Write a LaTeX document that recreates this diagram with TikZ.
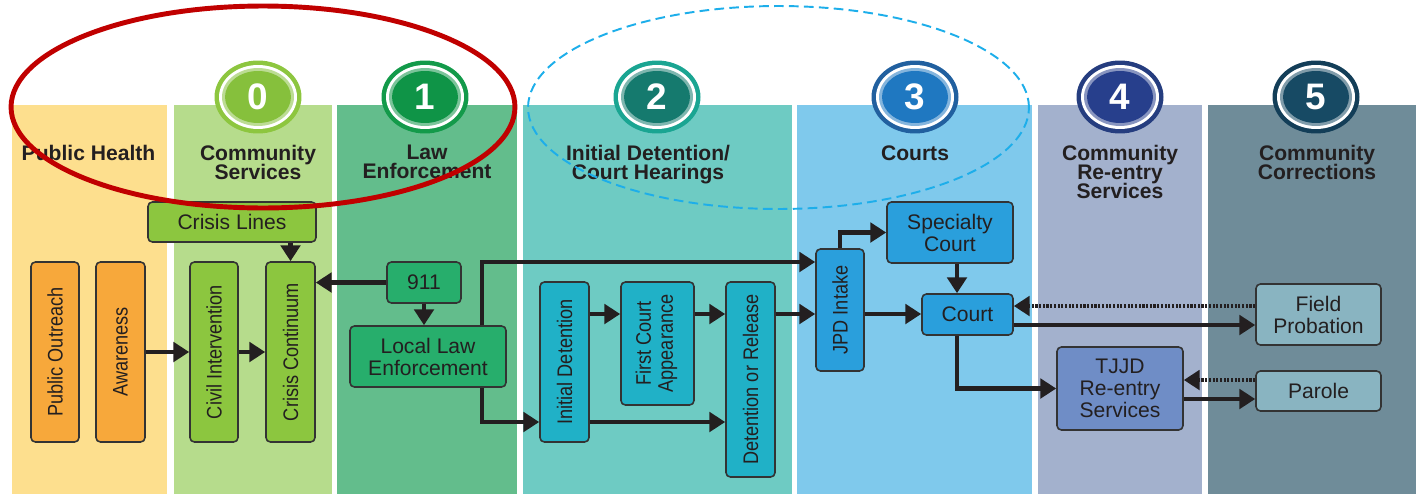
\documentclass[tikz,border=0pt]{standalone}
\usepackage{fontspec}
\setmainfont{Liberation Sans}
\usetikzlibrary{arrows.meta}

\definecolor{ink}{HTML}{231F20}
\definecolor{boxline}{HTML}{333333}
\definecolor{phband}{HTML}{FDDF8E}
\definecolor{csband}{HTML}{B6DC8C}
\definecolor{leband}{HTML}{63BD8C}
\definecolor{idband}{HTML}{6ECBC3}
\definecolor{ctband}{HTML}{7FC9EC}
\definecolor{reband}{HTML}{A3B1CD}
\definecolor{coband}{HTML}{6F8C99}
\definecolor{orng}{HTML}{F7A83B}
\definecolor{lime}{HTML}{8CC63F}
\definecolor{lawgreen}{HTML}{27AE6C}
\definecolor{cyanbox}{HTML}{20B1C7}
\definecolor{bluebox}{HTML}{2A9FDC}
\definecolor{tjjdbox}{HTML}{6F8DC6}
\definecolor{corrbox}{HTML}{89B4C1}
\definecolor{ringA}{HTML}{8DC63F}
\definecolor{ringB}{HTML}{139A4A}
\definecolor{ringC}{HTML}{1AA592}
\definecolor{ringD}{HTML}{21609F}
\definecolor{ringE}{HTML}{253D7F}
\definecolor{ringF}{HTML}{133E58}
\definecolor{coreA}{HTML}{86C03C}
\definecolor{coreB}{HTML}{0F9447}
\definecolor{coreC}{HTML}{157A6E}
\definecolor{coreD}{HTML}{1F78C1}
\definecolor{coreE}{HTML}{273F8C}
\definecolor{coreF}{HTML}{174A64}
\definecolor{markred}{HTML}{C00000}
\definecolor{markblue}{HTML}{1DAEEA}

\def\px{0.02cm}
\newcommand\vtext[1]{\rotatebox{90}{\scalebox{0.86}[1]{#1}}}
\newcommand\vtwo[2]{\rotatebox{90}{\scalebox{0.86}[1]{\begin{tabular}{@{}c@{}}#1\\#2\end{tabular}}}}

\tikzset{
  box/.style={draw=boxline, line width=0.9pt, rounded corners=2.5pt, inner sep=0pt,
    text=ink, align=center, font=\fontsize{12}{12.5}\selectfont},
  wh/.style 2 args={minimum width=#1*\px, minimum height=#2*\px},
  flow/.style={draw=ink, line width=2.8pt, -{Triangle[length=9pt,width=11pt]}},
  back/.style={flow, dash pattern=on 1.2pt off 0.9pt},
  head/.style={text=ink, align=center, inner sep=0pt, anchor=north,
    font={\bfseries\fontsize{12}{10.8}\selectfont\lineskiplimit=-20pt}},
  num/.style={text=white, inner sep=0pt, font=\bfseries\fontsize{21}{21}\selectfont}
}

\begin{document}
\begin{tikzpicture}[x=0.02cm, y=-0.02cm]
  \useasboundingbox (0,0) rectangle (1416,494);

  % intercept bands
  \foreach \a/\b/\c in {12/167/phband, 174/332/csband, 337/517/leband,
      523/792/idband, 797/1032/ctband, 1038/1202/reband, 1208/1416/coband}
    \fill[\c] (\a,105) rectangle (\b,494);

  % numbered badges
  \foreach \x/\n/\r/\k in {258/0/ringA/coreA, 425/1/ringB/coreB, 657/2/ringC/coreC,
      915/3/ringD/coreD, 1120/4/ringE/coreE, 1316/5/ringF/coreF} {
    \fill[\r] (\x,97) ellipse [x radius=0.87cm, y radius=0.73cm];
    \fill[white] (\x,97) ellipse [x radius=0.78cm, y radius=0.64cm];
    \fill[\k!55!white] (\x,97) ellipse [x radius=0.72cm, y radius=0.58cm];
    \fill[\k] (\x,97) ellipse [x radius=0.66cm, y radius=0.52cm];
    \node[num] (num\n) at (\x,97) {\n};
  }

  \node[head] (phhead) at (88.5,145) {Public Health};
  \node[head] (cshead) at (258,145) {Community\\Services};
  \node[head] (lehead) at (427,145) {Law\\Enforcement};
  \node[head] (idhead) at (648,145) {Initial Detention/\\Court Hearings};
  \node[head] (cthead) at (915,145) {Courts};
  \node[head] (rehead) at (1120,145) {Community\\Re-entry\\Services};
  \node[head] (cohead) at (1317,145) {Community\\Corrections};

  % boxes
  \node[box, fill=orng, wh={48}{180}] (outreach) at (55,352) {\vtext{Public Outreach}};
  \node[box, fill=orng, wh={49}{180}] (aware) at (120.5,352) {\vtext{Awareness}};
  \node[box, fill=lime, wh={168}{40}] (lines) at (232,222) {Crisis Lines};
  \node[box, fill=lime, wh={48}{180}] (civil) at (214,352) {\vtext{Civil Intervention}};
  \node[box, fill=lime, wh={49}{180}] (crisis) at (290.5,352) {\vtext{Crisis Continuum}};
  \node[box, fill=lawgreen, wh={74}{41}] (nine) at (424,282.5) {911};
  \node[box, fill=lawgreen, wh={156}{61}] (local) at (428,356.5) {Local Law\\Enforcement};
  \node[box, fill=cyanbox, wh={49}{160}] (initdet) at (564.5,362) {\vtext{Initial Detention}};
  \node[box, fill=cyanbox, wh={73}{123}] (firstct) at (657.5,343.5) {\vtwo{First Court}{Appearance}};
  \node[box, fill=cyanbox, wh={49}{195}] (detrel) at (750.5,379.5) {\vtext{Detention or Release}};
  \node[box, fill=bluebox, wh={48}{122}] (jpd) at (840,310) {\vtext{JPD Intake}};
  \node[box, fill=bluebox, wh={126}{61}] (special) at (950,232.5) {Specialty\\Court};
  \node[box, fill=bluebox, wh={91}{41}] (court) at (967.5,314.5) {Court};
  \node[box, fill=tjjdbox, wh={126}{83}] (tjjd) at (1120,388.5) {TJJD\\Re-entry\\Services};
  \node[box, fill=corrbox, wh={125}{61}] (probation) at (1318.5,314.5) {Field\\Probation};
  \node[box, fill=corrbox, wh={125}{40}] (parole) at (1318.5,391) {Parole};

  \coordinate (hi) at (482,262);
  \coordinate (lo) at (482,422);
  \coordinate (mid) at (0,314);
  \coordinate (drop) at (957,0);
  \coordinate (fwd) at (0,325);
  \coordinate (ret) at (0,306);
  \coordinate (fwdb) at (0,399);
  \coordinate (retb) at (0,380);

  % connectors
  \draw[flow] (lines.south -| crisis.north) -- (crisis.north);
  \draw[flow] (aware.east) -- (civil.west);
  \draw[flow] (civil.east) -- (crisis.west);
  \draw[flow] (nine.west) -- (nine.west -| crisis.east);
  \draw[flow] (nine.south) -- (nine.south |- local.north);
  \draw[flow] (local.north -| hi) -- (hi) -- (hi -| jpd.west);
  \draw[flow] (local.south -| lo) -- (lo) -- (lo -| initdet.west);
  \draw[flow] (initdet.east |- mid) -- (firstct.west |- mid);
  \draw[flow] (firstct.east |- mid) -- (detrel.west |- mid);
  \draw[flow] (initdet.east |- lo) -- (detrel.west |- lo);
  \draw[flow] (detrel.east |- mid) -- (jpd.west |- mid);
  \draw[flow] (jpd.east |- mid) -- (court.west |- mid);
  \draw[flow] (jpd.north) |- (special.west);
  \draw[flow] (special.south -| drop) -- (court.north -| drop);
  \draw[flow] (court.south -| drop) |- (tjjd.west);
  \draw[flow] (court.east |- fwd) -- (probation.west |- fwd);
  \draw[back] (probation.west |- ret) -- (court.east |- ret);
  \draw[flow] (tjjd.east |- fwdb) -- (parole.west |- fwdb);
  \draw[back] (parole.west |- retb) -- (tjjd.east |- retb);

  % highlight rings
  \draw[markred, line width=2.8pt] (263,107) ellipse [x radius=5.04cm, y radius=2.02cm];
  \draw[markblue, line width=1.1pt, dash pattern=on 5.5pt off 3pt]
    (778.5,107.5) ellipse [x radius=5.01cm, y radius=2.03cm];
\end{tikzpicture}
\end{document}
